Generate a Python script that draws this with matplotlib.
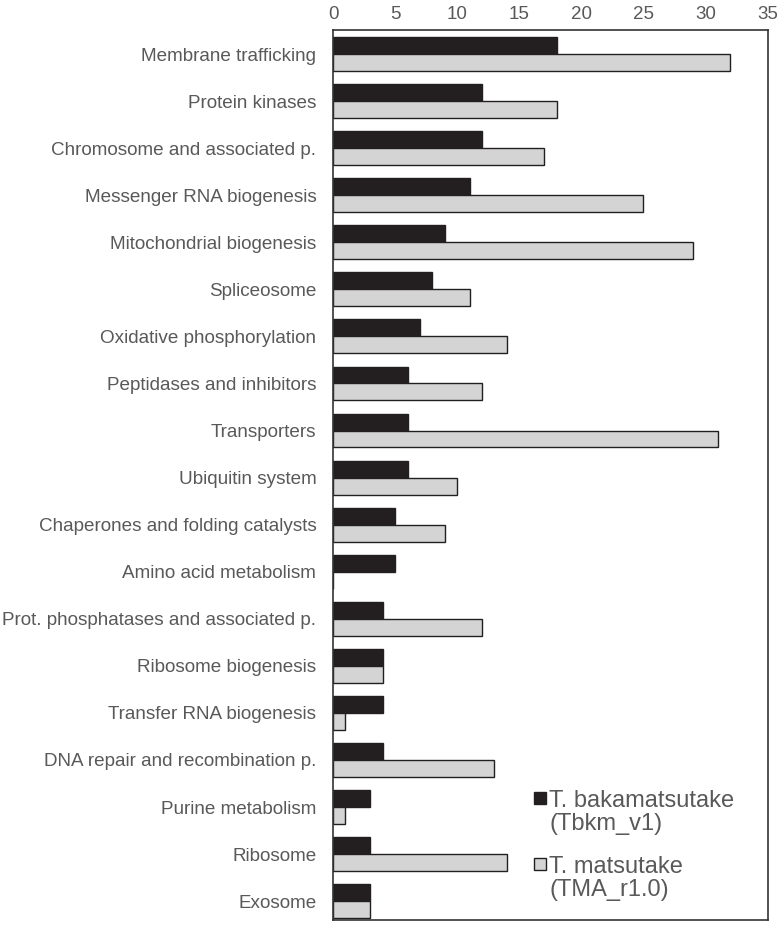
import matplotlib.pyplot as plt
import numpy as np
from matplotlib.patches import Patch, Rectangle
from matplotlib.legend_handler import HandlerPatch

plt.rcParams['font.family'] = ['Liberation Sans', 'DejaVu Sans']

categories = [
    "Membrane trafficking",
    "Protein kinases",
    "Chromosome and associated p.",
    "Messenger RNA biogenesis",
    "Mitochondrial biogenesis",
    "Spliceosome",
    "Oxidative phosphorylation",
    "Peptidases and inhibitors",
    "Transporters",
    "Ubiquitin system",
    "Chaperones and folding catalysts",
    "Amino acid metabolism",
    "Prot. phosphatases and associated p.",
    "Ribosome biogenesis",
    "Transfer RNA biogenesis",
    "DNA repair and recombination p.",
    "Purine metabolism",
    "Ribosome",
    "Exosome",
]
tbkm = [18, 12, 12, 11, 9, 8, 7, 6, 6, 6, 5, 5, 4, 4, 4, 4, 3, 3, 3]
tma = [32, 18, 17, 25, 29, 11, 14, 12, 31, 10, 9, 0, 12, 4, 1, 13, 1, 14, 3]

names = ["T. bakamatsutake\n(Tbkm_v1)", "T. matsutake\n(TMA_r1.0)"]
text_color = '#595959'
dark = '#231f20'
light = '#d4d4d4'

fig = plt.figure(figsize=(7.77, 9.26), dpi=100)
ax = fig.add_axes([0.4286, 0.0065, 0.5594, 0.9611])

y = np.arange(len(categories))
h = 0.36
ax.barh(y - h / 2, tbkm, height=h, color=dark, edgecolor=dark, linewidth=1)
ax.barh(y + h / 2, tma, height=h, color=light, edgecolor=dark, linewidth=1)

ax.set_xlim(0, 35)
ax.set_ylim(18.4, -0.51)
ax.set_yticks(y)
ax.set_yticklabels(categories, fontsize=13.6, color=text_color)
ax.set_xticks(range(0, 36, 5))
ax.xaxis.tick_top()
ax.tick_params(axis='x', length=0, labelsize=13.5, labelcolor=text_color, pad=5)
ax.tick_params(axis='y', length=0, pad=12)
for s in ax.spines.values():
    s.set_color('#333333')
    s.set_linewidth(1.2)


def small_square(legend, orig_handle, xdescent, ydescent, width, height, fontsize):
    # square a bit smaller than the handle box, centred on the first text line
    side = width
    return Rectangle((-xdescent, -ydescent + (height - side) / 2), side, side)


handles = [Patch(facecolor=dark, edgecolor=dark),
           Patch(facecolor=light, edgecolor=dark)]
leg = ax.legend(handles, names, loc='lower left', bbox_to_anchor=(0.462, 0.0214),
                frameon=False, fontsize=17, labelcolor=text_color,
                handlelength=0.5, handleheight=0.68, handletextpad=0.15,
                labelspacing=0.9, borderaxespad=0, borderpad=0,
                handler_map={Patch: HandlerPatch(patch_func=small_square)})
for t in leg.get_texts():
    t.set_linespacing(1.06)
# put each legend square next to the first line of its label
for col in leg._legend_handle_box.get_children():
    for item in col.get_children():
        item.align = 'top'

fig.savefig('out.png', dpi=100)
